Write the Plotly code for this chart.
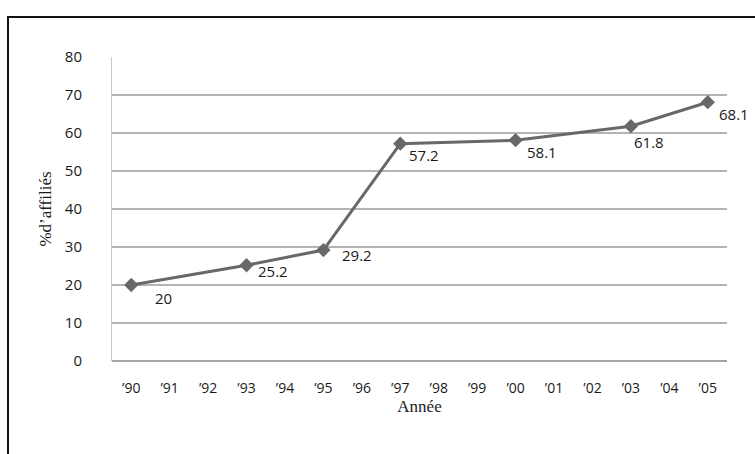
import plotly.graph_objects as go

# Years shown on the category axis and the measured share of affiliates
years = ["’90", "’91", "’92", "’93", "’94", "’95", "’96", "’97",
         "’98", "’99", "’00", "’01", "’02", "’03", "’04", "’05"]
obs_years = ["’90", "’93", "’95", "’97", "’00", "’03", "’05"]
obs_values = [20, 25.2, 29.2, 57.2, 58.1, 61.8, 68.1]
y_ticks = [0, 10, 20, 30, 40, 50, 60, 70, 80]

# label offsets (px) for each value label, relative to its marker
label_dx = [32, 26, 34, 24, 26, 18, 26]
label_dy = [-13, -6, -5, -11, -12, -16, -12]

W, H = 755, 454
ML, MR, MT, MB = 112, 28, 57, 93
pw, ph = W - ML - MR, H - MT - MB

TEXT = "#1a1a1a"

fig = go.Figure()
fig.add_trace(go.Scatter(
    x=obs_years, y=obs_values, mode="lines+markers",
    line=dict(color="#686868", width=3),
    marker=dict(symbol="diamond", size=11, color="#686868"),
    hoverinfo="skip", showlegend=False,
))

for xv, yv, dx, dy in zip(obs_years, obs_values, label_dx, label_dy):
    fig.add_annotation(
        x=xv, y=yv, text=f"{yv:g}", showarrow=False,
        xshift=dx, yshift=dy, xanchor="center", yanchor="middle",
        font=dict(family="Open Sans", size=15, color=TEXT),
    )

# outer frame (left and top edges visible, right and bottom run off the page)
x0 = (8 - ML) / pw
y0 = 1 + (MT - 17) / ph
fig.add_shape(type="rect", xref="paper", yref="paper",
              x0=x0, x1=1.2, y0=-0.5, y1=y0,
              line=dict(color="#111111", width=2), fillcolor="rgba(0,0,0,0)",
              layer="above")

fig.update_layout(
    width=W, height=H,
    margin=dict(l=ML, r=MR, t=MT, b=MB),
    paper_bgcolor="#ffffff", plot_bgcolor="#ffffff",
    xaxis=dict(
        type="category", categoryorder="array", categoryarray=years,
        tickvals=years, range=[-0.5, 15.5],
        showgrid=False, showline=False, zeroline=False,
        ticks="outside", ticklen=14, tickcolor="rgba(0,0,0,0)",
        tickfont=dict(family="Open Sans", size=14, color=TEXT),
        title=dict(text="Année", standoff=2,
                   font=dict(family="Liberation Serif", size=17, color=TEXT)),
    ),
    yaxis=dict(
        range=[0, 80], tickvals=y_ticks,
        showgrid=True, gridcolor="#b4b4b4", gridwidth=1.5,
        showline=True, linecolor="#c8c8c8", linewidth=1,
        zeroline=True, zerolinecolor="#a4a4a4", zerolinewidth=2,
        ticks="outside", ticklen=26, tickcolor="rgba(0,0,0,0)",
        tickfont=dict(family="Open Sans", size=15, color=TEXT),
        title=dict(text="%d’affiliés", standoff=8,
                   font=dict(family="Liberation Serif", size=17, color=TEXT)),
    ),
)

fig.write_html("out.html")
